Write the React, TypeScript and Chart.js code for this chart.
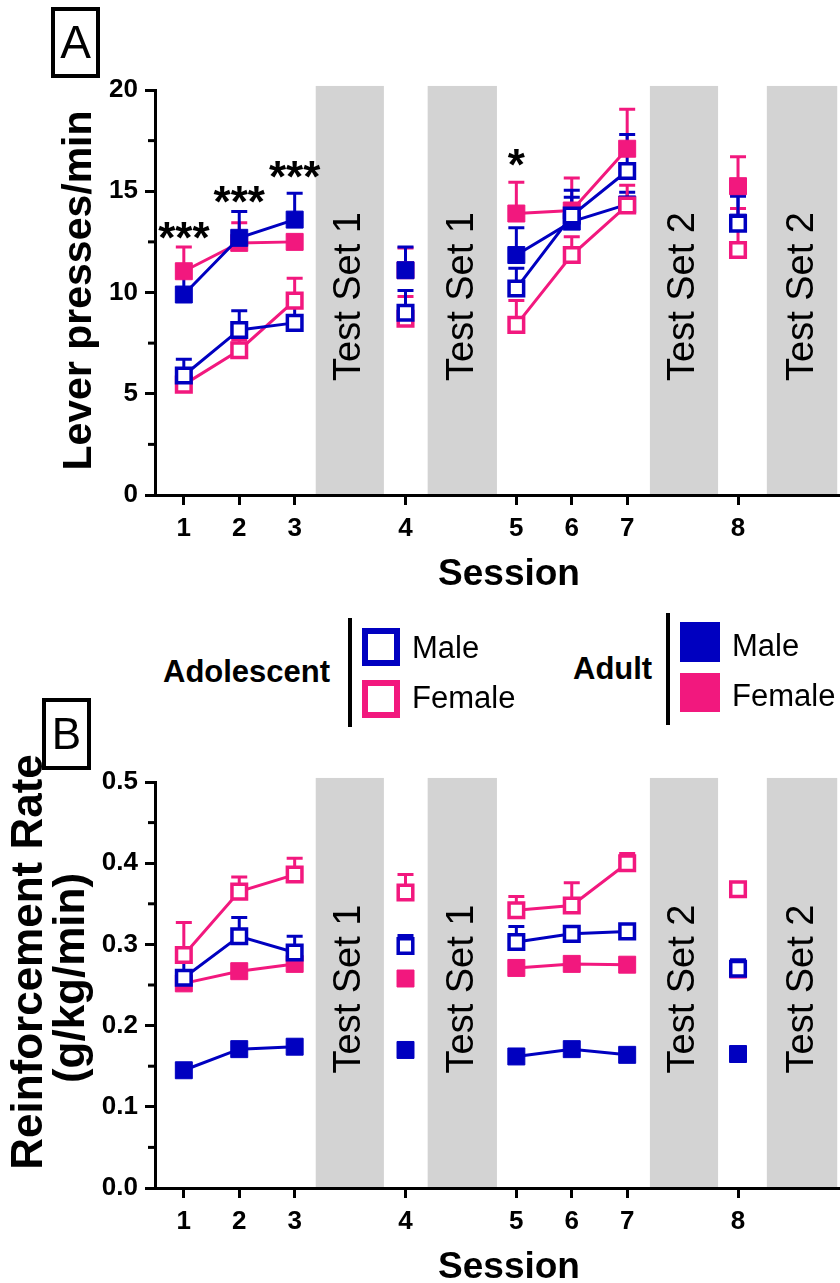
import React, { useEffect, useRef } from 'react';
import { Chart, registerables } from 'chart.js';

Chart.register(...registerables);

const FONT = '"Liberation Sans", Arial, sans-serif';
Chart.defaults.font.family = FONT;

// ---------- shared categories ----------
const sessionLabels = ['1', '2', '3', '4', '5', '6', '7', '8'];
const sessionPos = [0, 1, 2, 4, 6, 7, 8, 10];
const lineBreaksAfter = [3, 4, 7];

const bandStart = [2.38, 4.4, 8.41, 10.52];
const bandEnd = [3.61, 5.65, 9.64, 11.79];
const bandLabels = ['Test Set 1', 'Test Set 1', 'Test Set 2', 'Test Set 2'];

// ---------- Panel A: Lever presses/min ----------
const adoMaleA = [5.9, 8.15, 8.5, 9.0, 10.2, 13.8, 16.0, 13.4];
const adoMaleErrA = [0.8, 0.95, 1.3, 1.1, 1.0, 1.25, 1.8, 1.5];
const adoFemaleA = [5.45, 7.15, 9.6, 8.7, 8.4, 11.85, 14.3, 12.1];
const adoFemaleErrA = [0.8, 0.5, 1.1, 1.1, 1.2, 0.9, 1.0, 2.05];
const adultMaleA = [9.9, 12.7, 13.6, 11.1, 11.85, 13.5, 14.35, 13.45];
const adultMaleErrA = [1.45, 1.3, 1.3, 1.15, 1.35, 1.2, 0.6, 1.3];
const adultFemaleA = [11.05, 12.45, 12.5, 11.1, 13.9, 14.05, 17.1, 15.25];
const adultFemaleErrA = [1.2, 1.0, 0.3, 1.1, 1.55, 1.6, 1.95, 1.45];

const yTicksA = [0, 2.5, 5, 7.5, 10, 12.5, 15, 17.5, 20];
const yTickLabelsA = ['0', '', '5', '', '10', '', '15', '', '20'];
const yTitleA = ['Lever presses/min'];

const sigSessionsA = [1, 2, 3, 5];
const sigLabelsA = ['***', '***', '***', '*'];
const sigYA = [13.2, 14.95, 16.2, 16.8];

// ---------- Panel B: Reinforcement rate ----------
const adoMaleB = [0.259, 0.31, 0.29, 0.298, 0.303, 0.313, 0.316, 0.27];
const adoMaleErrB = [0.026, 0.023, 0.02, 0.013, 0.019, 0.006, 0.005, 0.011];
const adoFemaleB = [0.287, 0.365, 0.386, 0.364, 0.342, 0.348, 0.4, 0.368];
const adoFemaleErrB = [0.04, 0.018, 0.02, 0.022, 0.017, 0.028, 0.012, 0.005];
const adultMaleB = [0.145, 0.171, 0.174, 0.17, 0.162, 0.171, 0.164, 0.165];
const adultMaleErrB = [0.006, 0.004, 0.004, 0.003, 0.003, 0.003, 0.003, 0.003];
const adultFemaleB = [0.252, 0.267, 0.276, 0.258, 0.271, 0.276, 0.275, 0.269];
const adultFemaleErrB = [0.004, 0.004, 0.004, 0.004, 0.004, 0.004, 0.004, 0.004];

const yTicksB = [0, 0.05, 0.1, 0.15, 0.2, 0.25, 0.3, 0.35, 0.4, 0.45, 0.5];
const yTickLabelsB = ['0.0', '', '0.1', '', '0.2', '', '0.3', '', '0.4', '', '0.5'];
const yTitleB = ['Reinforcement Rate', '(g/kg/min)'];

const BLUE = '#0000C0';
const PINK = '#F2187E';
const GRAY = '#D3D3D3';

function toPoints(vals: number[]) {
  const pts: { x: number; y: number | null }[] = [];
  vals.forEach((v, i) => {
    pts.push({ x: sessionPos[i], y: v });
    if (lineBreaksAfter.includes(i + 1)) pts.push({ x: sessionPos[i] + 0.5, y: null });
  });
  return pts;
}

function ds(label: string, vals: number[], errs: number[], color: string, open: boolean) {
  return {
    label,
    data: toPoints(vals),
    values: vals,
    errors: errs,
    borderColor: color,
    backgroundColor: color,
    borderWidth: 3,
    pointStyle: 'rect',
    pointRadius: open ? 10.3 : 12,
    pointBorderWidth: open ? 3.5 : 1,
    pointBackgroundColor: open ? '#ffffff' : color,
    pointBorderColor: color,
    spanGaps: false,
    tension: 0,
    clip: false,
  };
}

interface PanelSpec {
  yMin: number;
  yMax: number;
  yTicks: number[];
  yTickLabels: string[];
  bandTop: number;
  yTitle: string[];
  yTitleFont: number;
  yTitleX: number[];
  yTitleDy: number[];
  padTop: number;
  xAxisHeight: number;
  sigSessions: number[];
  sigLabels: string[];
  sigY: number[];
  datasets: any[];
}

function makeDecor(spec: PanelSpec) {
  return {
    id: 'decor',
    beforeDraw(chart: any) {
      const { ctx, chartArea, scales } = chart;
      const xs = scales.x;
      const ys = scales.y;
      const top = ys.getPixelForValue(spec.bandTop);
      const bottom = ys.getPixelForValue(spec.yMin);
      ctx.save();
      bandStart.forEach((s, i) => {
        const l = xs.getPixelForValue(s);
        const r = xs.getPixelForValue(bandEnd[i]);
        ctx.fillStyle = GRAY;
        ctx.fillRect(l, top, r - l, bottom - top);
        ctx.save();
        ctx.translate((l + r) / 2, (chartArea.top + chartArea.bottom) / 2 + 4);
        ctx.rotate(-Math.PI / 2);
        ctx.fillStyle = '#000';
        ctx.font = `38px ${FONT}`;
        ctx.textAlign = 'center';
        ctx.textBaseline = 'middle';
        ctx.fillText(bandLabels[i], 0, 0);
        ctx.restore();
      });
      ctx.restore();
    },
    beforeDatasetsDraw(chart: any) {
      const { ctx, scales } = chart;
      const xs = scales.x;
      const ys = scales.y;
      ctx.save();
      ctx.lineWidth = 3;
      const sets = chart.data.datasets;
      for (let d = sets.length - 1; d >= 0; d--) {
        const set = sets[d];
        ctx.strokeStyle = set.borderColor;
        set.values.forEach((v: number, i: number) => {
          const x = xs.getPixelForValue(sessionPos[i]);
          const y0 = ys.getPixelForValue(v);
          const y1 = ys.getPixelForValue(v + set.errors[i]);
          ctx.beginPath();
          ctx.moveTo(x, y0);
          ctx.lineTo(x, y1);
          ctx.moveTo(x - 8, y1);
          ctx.lineTo(x + 8, y1);
          ctx.stroke();
        });
      }
      ctx.restore();
    },
    afterDraw(chart: any) {
      const { ctx, chartArea, scales } = chart;
      const xs = scales.x;
      const ys = scales.y;
      ctx.save();
      // minor y ticks
      ctx.strokeStyle = '#000';
      ctx.lineWidth = 3;
      spec.yTicks.forEach((v, i) => {
        if (spec.yTickLabels[i] !== '') return;
        const y = ys.getPixelForValue(v);
        ctx.beginPath();
        ctx.moveTo(chartArea.left - 7, y);
        ctx.lineTo(chartArea.left, y);
        ctx.stroke();
      });
      // significance marks
      ctx.fillStyle = '#000';
      ctx.font = `bold 44px ${FONT}`;
      ctx.textAlign = 'center';
      ctx.textBaseline = 'alphabetic';
      spec.sigSessions.forEach((s, i) => {
        const x = xs.getPixelForValue(sessionPos[s - 1]);
        const y = ys.getPixelForValue(spec.sigY[i]);
        ctx.fillText(spec.sigLabels[i], x, y + 25);
      });
      // x axis title
      ctx.font = `bold 37px ${FONT}`;
      ctx.textBaseline = 'middle';
      ctx.fillText('Session', 509, chartArea.bottom + 80);
      // y axis title (rotated)
      ctx.font = `bold ${spec.yTitleFont}px ${FONT}`;
      const cy = (chartArea.top + chartArea.bottom) / 2;
      spec.yTitle.forEach((line, i) => {
        ctx.save();
        ctx.translate(spec.yTitleX[i], cy + spec.yTitleDy[i]);
        ctx.rotate(-Math.PI / 2);
        ctx.fillText(line, 0, 0);
        ctx.restore();
      });
      ctx.restore();
    },
  };
}

function makeConfig(spec: PanelSpec): any {
  return {
    type: 'line',
    data: { datasets: spec.datasets },
    plugins: [makeDecor(spec)],
    options: {
      animation: false,
      responsive: false,
      devicePixelRatio: 1,
      events: [],
      layout: { autoPadding: false, padding: { top: spec.padTop, left: 0, right: 0, bottom: 0 } },
      plugins: { legend: { display: false }, tooltip: { enabled: false } },
      scales: {
        x: {
          type: 'linear',
          min: -0.52,
          max: 11.84,
          afterBuildTicks: (s: any) => {
            s.ticks = sessionPos.map((v) => ({ value: v }));
          },
          afterFit: (s: any) => {
            s.height = spec.xAxisHeight;
            s.paddingLeft = 0;
            s.paddingRight = 0;
          },
          grid: {
            display: true,
            drawOnChartArea: false,
            drawTicks: true,
            tickLength: 10,
            tickWidth: 3,
            tickColor: '#000',
          },
          border: { display: true, color: '#000', width: 3 },
          ticks: {
            autoSkip: false,
            maxRotation: 0,
            color: '#000',
            padding: 8,
            font: { size: 26, weight: 'bold' },
            callback: (v: number) => {
              const k = sessionPos.indexOf(v);
              return k >= 0 ? sessionLabels[k] : '';
            },
          },
        },
        y: {
          type: 'linear',
          min: spec.yMin,
          max: spec.yMax,
          afterBuildTicks: (s: any) => {
            s.ticks = spec.yTicks.map((v) => ({ value: v }));
          },
          afterFit: (s: any) => {
            s.width = 155;
            s.paddingTop = 0;
            s.paddingBottom = 0;
          },
          grid: {
            display: true,
            drawOnChartArea: false,
            drawTicks: true,
            tickLength: 10,
            tickWidth: 3,
            tickColor: (c: any) => (spec.yTickLabels[c.index] !== '' ? '#000' : 'rgba(0,0,0,0)'),
          },
          border: { display: true, color: '#000', width: 3 },
          ticks: {
            autoSkip: false,
            color: '#000',
            padding: 7,
            font: { size: 26, weight: 'bold' },
            callback: (_v: number, i: number) => spec.yTickLabels[i],
          },
        },
      },
    },
  };
}

const specA: PanelSpec = {
  yMin: 0,
  yMax: 20,
  yTicks: yTicksA,
  yTickLabels: yTickLabelsA,
  bandTop: 20.2,
  yTitle: yTitleA,
  yTitleFont: 41,
  yTitleX: [80],
  yTitleDy: [-2],
  padTop: 90,
  xAxisHeight: 105,
  sigSessions: sigSessionsA,
  sigLabels: sigLabelsA,
  sigY: sigYA,
  datasets: [
    ds('Adolescent Male', adoMaleA, adoMaleErrA, BLUE, true),
    ds('Adolescent Female', adoFemaleA, adoFemaleErrA, PINK, true),
    ds('Adult Male', adultMaleA, adultMaleErrA, BLUE, false),
    ds('Adult Female', adultFemaleA, adultFemaleErrA, PINK, false),
  ],
};

const specB: PanelSpec = {
  yMin: 0,
  yMax: 0.5,
  yTicks: yTicksB,
  yTickLabels: yTickLabelsB,
  bandTop: 0.505,
  yTitle: yTitleB,
  yTitleFont: 44,
  yTitleX: [30, 72],
  yTitleDy: [-23, -7],
  padTop: 92,
  xAxisHeight: 95,
  sigSessions: [],
  sigLabels: [],
  sigY: [],
  datasets: [
    ds('Adolescent Male', adoMaleB, adoMaleErrB, BLUE, true),
    ds('Adolescent Female', adoFemaleB, adoFemaleErrB, PINK, true),
    ds('Adult Male', adultMaleB, adultMaleErrB, BLUE, false),
    ds('Adult Female', adultFemaleB, adultFemaleErrB, PINK, false),
  ],
};

const abs = (o: React.CSSProperties): React.CSSProperties => ({ position: 'absolute', ...o });

function Txt({ x, y, size, bold, children }: { x: number; y: number; size: number; bold?: boolean; children: React.ReactNode }) {
  return (
    <div
      style={abs({
        left: x,
        top: y,
        transform: 'translateY(-50%)',
        fontFamily: FONT,
        fontSize: size,
        fontWeight: bold ? 'bold' : 'normal',
        lineHeight: `${size}px`,
        whiteSpace: 'nowrap',
        color: '#000',
      })}
    >
      {children}
    </div>
  );
}

export default function App() {
  const refA = useRef<HTMLCanvasElement>(null);
  const refB = useRef<HTMLCanvasElement>(null);

  useEffect(() => {
    const a = new Chart(refA.current as HTMLCanvasElement, makeConfig(specA));
    const b = new Chart(refB.current as HTMLCanvasElement, makeConfig(specB));
    return () => {
      a.destroy();
      b.destroy();
    };
  }, []);

  return (
    <div style={abs({ left: 0, top: 0, width: 840, height: 1283, background: '#fff', overflow: 'hidden' })}>
      <canvas ref={refA} width={840} height={600} style={abs({ left: 0, top: 0, display: 'block' })} />
      <canvas ref={refB} width={840} height={593} style={abs({ left: 0, top: 690, display: 'block' })} />

      {/* panel letters */}
      <div
        style={abs({
          left: 51, top: 7, width: 49, height: 71, border: '4px solid #000', boxSizing: 'border-box',
          fontFamily: FONT, fontSize: 46, lineHeight: '63px', textAlign: 'center', color: '#000',
        })}
      >
        A
      </div>
      <div
        style={abs({
          left: 42, top: 698, width: 49, height: 72, border: '4px solid #000', boxSizing: 'border-box',
          fontFamily: FONT, fontSize: 44, lineHeight: '64px', textAlign: 'center', color: '#000',
        })}
      >
        B
      </div>

      {/* legend */}
      <Txt x={163} y={671} size={31} bold>Adolescent</Txt>
      <div style={abs({ left: 348, top: 618, width: 4, height: 109, background: '#000' })} />
      <div style={abs({ left: 362, top: 628, width: 38, height: 38, border: `6px solid ${BLUE}`, boxSizing: 'border-box', background: '#fff' })} />
      <div style={abs({ left: 362, top: 680, width: 38, height: 38, border: `6px solid ${PINK}`, boxSizing: 'border-box', background: '#fff' })} />
      <Txt x={412} y={647} size={31}>Male</Txt>
      <Txt x={412} y={697} size={31}>Female</Txt>

      <Txt x={573} y={668} size={31} bold>Adult</Txt>
      <div style={abs({ left: 666, top: 613, width: 4, height: 112, background: '#000' })} />
      <div style={abs({ left: 680, top: 622, width: 40, height: 40, background: BLUE })} />
      <div style={abs({ left: 680, top: 673, width: 40, height: 39, background: PINK })} />
      <Txt x={732} y={645} size={31}>Male</Txt>
      <Txt x={732} y={695} size={31}>Female</Txt>
    </div>
  );
}
